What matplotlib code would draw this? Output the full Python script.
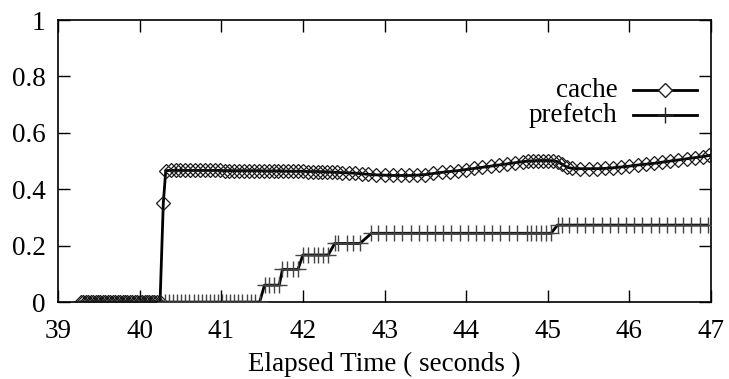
import matplotlib
matplotlib.use('Agg')
import matplotlib.pyplot as plt

plt.rcParams['font.family'] = ['Liberation Serif', 'DejaVu Serif']

# cache series (elapsed time, fraction)
cache_t = [39.28, 39.31, 39.34, 39.37, 39.40, 39.43, 39.46, 39.49, 39.52, 39.55,
           39.58, 39.61, 39.64, 39.67, 39.70, 39.73, 39.76, 39.79, 39.82, 39.85,
           39.88, 39.91, 39.94, 39.97, 40.00, 40.03, 40.06, 40.09, 40.12, 40.15,
           40.18, 40.21, 40.25, 40.29,
           40.32, 40.38, 40.44, 40.50, 40.56, 40.62, 40.68, 40.74, 40.80, 40.86,
           40.92, 40.98, 41.04, 41.10, 41.16, 41.22, 41.28, 41.34, 41.40, 41.46,
           41.52, 41.58, 41.64, 41.70, 41.76, 41.82, 41.88, 41.94, 42.00, 42.06,
           42.12, 42.18, 42.24, 42.30, 42.36, 42.42, 42.48, 42.56, 42.64, 42.72,
           42.80, 42.90, 43.00, 43.10, 43.20, 43.30, 43.40, 43.50, 43.60, 43.70,
           43.80, 43.90, 44.00, 44.10, 44.20, 44.30, 44.40, 44.50, 44.60, 44.70,
           44.76, 44.82, 44.88, 44.94, 45.00, 45.06, 45.12, 45.18, 45.24, 45.30,
           45.40, 45.50, 45.60, 45.70, 45.80, 45.90, 46.00, 46.10, 46.20, 46.30,
           46.40, 46.50, 46.60, 46.70, 46.80, 46.90, 46.98]
cache_v = [0.0, 0.0, 0.0, 0.0, 0.0, 0.0, 0.0, 0.0, 0.0, 0.0,
           0.0, 0.0, 0.0, 0.0, 0.0, 0.0, 0.0, 0.0, 0.0, 0.0,
           0.0, 0.0, 0.0, 0.0, 0.0, 0.0, 0.0, 0.0, 0.0, 0.0,
           0.0, 0.0, 0.0, 0.352,
           0.466, 0.467, 0.467, 0.467, 0.467, 0.467, 0.467, 0.467, 0.467, 0.467,
           0.467, 0.467, 0.466, 0.466, 0.466, 0.466, 0.466, 0.466, 0.466, 0.466,
           0.465, 0.465, 0.465, 0.465, 0.465, 0.464, 0.464, 0.464, 0.464, 0.463,
           0.463, 0.463, 0.462, 0.462, 0.461, 0.460, 0.459, 0.458, 0.457, 0.455,
           0.453, 0.451, 0.450, 0.449, 0.449, 0.449, 0.450, 0.452, 0.456, 0.460,
           0.463, 0.466, 0.470, 0.474, 0.478, 0.482, 0.486, 0.490, 0.494, 0.498,
           0.500, 0.501, 0.502, 0.502, 0.502, 0.501, 0.498, 0.488, 0.478, 0.474,
           0.473, 0.473, 0.473, 0.474, 0.476, 0.479, 0.482, 0.486, 0.489, 0.492,
           0.496, 0.500, 0.504, 0.508, 0.512, 0.516, 0.520]

# prefetch series
pref_t = [40.31, 40.36, 40.41, 40.46, 40.51, 40.56, 40.61, 40.66, 40.71, 40.76,
          40.81, 40.86, 40.91, 40.96, 41.01, 41.06, 41.11, 41.16, 41.21, 41.26,
          41.31, 41.36, 41.41, 41.47,
          41.53, 41.59, 41.65, 41.71,
          41.75, 41.81, 41.88, 41.94,
          42.00, 42.06, 42.13, 42.19, 42.25, 42.31,
          42.39, 42.43, 42.54, 42.62, 42.70,
          42.84, 42.92, 43.02, 43.12, 43.22, 43.32, 43.42, 43.52, 43.62, 43.72,
          43.82, 43.92, 44.02, 44.12, 44.22, 44.32, 44.42, 44.52, 44.62, 44.74,
          44.80, 44.86, 44.92, 44.98, 45.04,
          45.12, 45.17, 45.26, 45.36, 45.46, 45.56, 45.66, 45.76, 45.86, 45.96,
          46.06, 46.16, 46.26, 46.36, 46.46, 46.56, 46.66, 46.76, 46.86, 46.96]
pref_v = [0.0] * 24 + \
         [0.06, 0.06, 0.06, 0.06,
          0.116, 0.116, 0.116, 0.116,
          0.167, 0.167, 0.167, 0.167, 0.167, 0.167,
          0.208, 0.208, 0.208, 0.208, 0.208,
          0.244, 0.244, 0.244, 0.244, 0.244, 0.244, 0.244, 0.244, 0.244, 0.244,
          0.244, 0.244, 0.244, 0.244, 0.244, 0.244, 0.244, 0.244, 0.244, 0.244,
          0.244, 0.244, 0.244, 0.244, 0.244,
          0.273, 0.273, 0.273, 0.273, 0.273, 0.273, 0.273, 0.273, 0.273, 0.273,
          0.273, 0.273, 0.273, 0.273, 0.273, 0.273, 0.273, 0.273, 0.273, 0.273]

xticks = [39, 40, 41, 42, 43, 44, 45, 46, 47]
yticks = [0, 0.2, 0.4, 0.6, 0.8, 1]
ytick_labels = ['0', '0.2', '0.4', '0.6', '0.8', '1']

fig = plt.figure(figsize=(7.29, 3.79), dpi=100)
ax = fig.add_axes([0.0796, 0.203, 0.8957, 0.744])

ax.plot(cache_t, cache_v, color='black', lw=2, marker='D', ms=7.5,
        mfc='none', mec='#1a1a1a', mew=0.9, zorder=3)
ax.plot(pref_t, pref_v, color='black', lw=2, marker='+', ms=12,
        mec='#444444', mew=1.0, zorder=3)

ax.set_xlim(39, 47)
ax.set_ylim(0, 1)
ax.set_xticks(xticks)
ax.set_yticks(yticks)
ax.set_yticklabels(ytick_labels)
ax.tick_params(direction='in', length=8.5, width=1, labelsize=19.5,
               top=True, right=True)
ax.tick_params(axis='y', pad=9)
ax.tick_params(axis='x', pad=12)
for s in ax.spines.values():
    s.set_linewidth(1.2)

ax.set_xlabel('Elapsed Time ( seconds )', fontsize=19.5, labelpad=5.5)

# gnuplot style key: right aligned text followed by sample
key = [('cache', 'D', 7.5, 0.752), ('prefetch', '+', 12, 0.663)]
for name, mk, size, ky in key:
    ax.text(0.857, ky, name, transform=ax.transAxes, ha='right', va='center',
            fontsize=19.5)
    ax.plot([0.881, 0.979], [ky, ky], transform=ax.transAxes, color='black',
            lw=2, clip_on=False)
    ax.plot([0.929], [ky], transform=ax.transAxes, marker=mk, ms=size,
            mfc='white' if mk == 'D' else 'none', mec='#222222', mew=1.0,
            ls='none', clip_on=False)

fig.savefig('out.png', dpi=100)
